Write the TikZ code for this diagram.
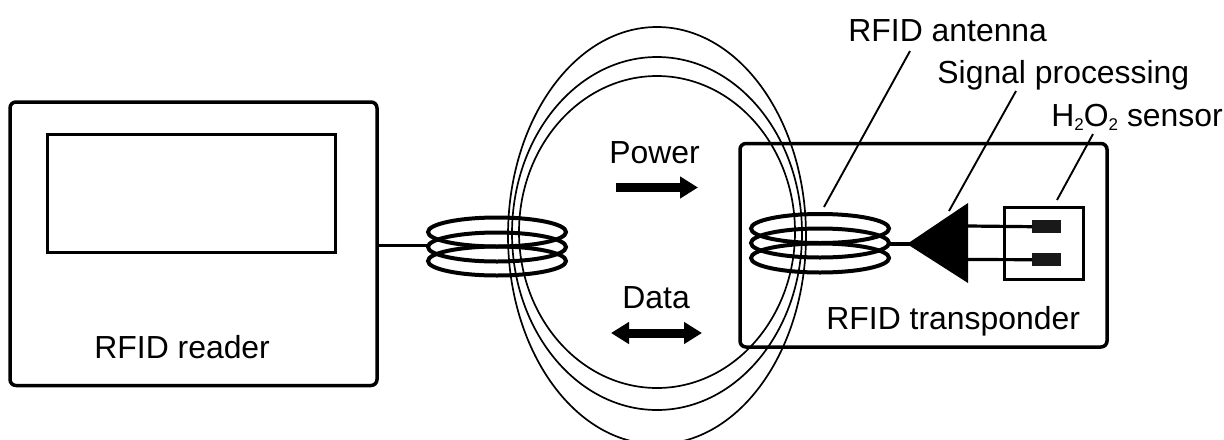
\documentclass[tikz,border=0pt]{standalone}
\usepackage{fontspec}
\setmainfont{Liberation Sans}
\usetikzlibrary{arrows.meta,positioning}
\newcommand{\subtwo}{\raisebox{-0.28ex}{\fontsize{8.5}{9}\selectfont 2}}
\tikzset{
  box/.style     = {draw, line width=1.75pt, rounded corners=3pt, inner sep=0pt, outer sep=0pt, anchor=north west},
  plain/.style   = {draw, line width=1.5pt, inner sep=0pt, outer sep=0pt, anchor=north west},
  field/.style   = {line width=0.85pt},
  turn/.style    = {line width=2pt},
  wire/.style    = {line width=1.6pt},
  leader/.style  = {line width=0.95pt},
  label/.style   = {inner sep=0pt, anchor=base west, font=\fontsize{15.95}{18}\selectfont},
  pad/.style     = {fill=black!90, inner sep=0pt, outer sep=0pt, anchor=north west, minimum width=14.5pt, minimum height=6.7pt},
  flow/.style    = {line width=4.5pt, -{Triangle[length=9pt,width=10.5pt]}},
  flowboth/.style= {line width=4.5pt, {Triangle[length=9pt,width=10.5pt]}-{Triangle[length=9pt,width=10.5pt]}}
}
\begin{document}
\begin{tikzpicture}[x=0.5pt,y=-0.5pt]
      \useasboundingbox (0,0) rectangle (1224,439);
      %Boxes
      \node[box, minimum width=183.5pt, minimum height=141.75pt] (reader) at (10,102) {};
      \node[plain, minimum width=144pt, minimum height=59pt] (display) at (47,134) {};
      \node[box, minimum width=183.5pt, minimum height=101.75pt] (transponder) at (740,143.5) {};
      \node[plain, minimum width=39.5pt, minimum height=36pt] (sensor) at (1004,207) {};
      \node[pad] (padup) at (1032,220) {};
      \node[pad] (paddown) at (1032,253) {};
      %Field lines
      \draw[field] (657,235.6) ellipse [x radius=149, y radius=208.6];
      \draw[field] (657,233.5) ellipse [x radius=145, y radius=176.5];
      \draw[field] (657,232) ellipse [x radius=138, y radius=156];
      %Coils
      \foreach \cy in {232,247,261} {
        \draw[turn] (497,\cy) ellipse [x radius=69, y radius=14.5];
      }
      \foreach \cy in {228.5,243,258} {
        \draw[turn] (820,\cy) ellipse [x radius=69, y radius=14.5];
      }
      \coordinate (coilleft) at (427,245.5);
      \coordinate (coilright) at (889,244);
      \coordinate (readerout) at (379,245.5);
      \draw[wire] (readerout) -- (coilleft);
      %Amplifier
      \node[inner sep=0pt] (amp) at (968,244) {};
      \fill (907,244) -- (968,203) -- (968,283) -- cycle;
      \draw[wire] (coilright) -- (amp);
      \draw[wire] (968,226) -- (padup.west);
      \draw[wire] (968,259.5) -- (paddown.west);
      %Labels
      \node[label] (lreader) at (94,358) {RFID reader};
      \node[label] (ltransponder) at (826,329) {RFID transponder};
      \node[label] (lpower) at (609,163) {Power};
      \node[label] (ldata) at (622,308) {Data};
      \node[label] (lantenna) at (848,41) {RFID antenna};
      \node[label] (lsignal) at (937,83) {Signal processing};
      \node[label] (lsensor) at (1051,126) {H\subtwo O\subtwo\ sensor};
      %Leaders
      \coordinate (startantenna) at (910,51);
      \coordinate (startsignal) at (1016,91);
      \coordinate (startsensor) at (1093,134);
      \coordinate (endantenna) at (824,207);
      \coordinate (endsignal) at (949,211);
      \coordinate (endsensor) at (1057,200);
      \draw[leader] (startantenna) -- (endantenna);
      \draw[leader] (startsignal) -- (endsignal);
      \draw[leader] (startsensor) -- (endsensor);
      %Arrows
      \coordinate (powerleft) at (616,187.5);
      \coordinate (powerright) at (698,187.5);
      \coordinate (dataleft) at (611,333);
      \coordinate (dataright) at (702,333);
      \draw[flow] (powerleft) -- (powerright);
      \draw[flowboth] (dataleft) -- (dataright);
\end{tikzpicture}
\end{document}
